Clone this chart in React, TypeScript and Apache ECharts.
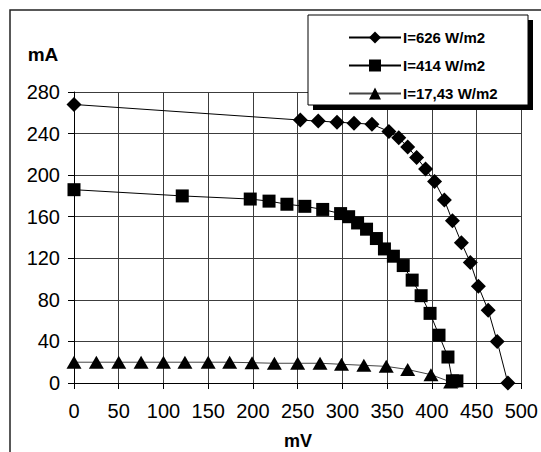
import React, { useEffect, useRef } from "react";
import * as echarts from "echarts";

const xTicks = [0, 50, 100, 150, 200, 250, 300, 350, 400, 450, 500];
const yTicks = [0, 40, 80, 120, 160, 200, 240, 280];

const seriesNames = ["I=626 W/m2", "I=414 W/m2", "I=17,43 W/m2"];

const mV626 = [0, 253, 273, 294, 313, 333, 352, 363, 373, 383, 393, 403, 414, 423, 433, 443, 452, 463, 473, 485];
const mA626 = [268, 253, 252, 251, 250, 249, 242, 236, 227, 217, 206, 194, 176, 156, 135, 116, 93, 70, 40, 0];

const mV414 = [0, 121, 197, 218, 238, 258, 278, 298, 307, 317, 327, 338, 347, 357, 368, 378, 388, 398, 408, 418, 423, 428];
const mA414 = [186, 180, 177, 175, 172, 170, 167, 163, 160, 154, 148, 139, 129, 122, 113, 99, 84, 67, 46, 25, 2, 2];

const mV17 = [0, 25, 50, 75, 100, 124, 150, 174, 199, 224, 250, 275, 299, 324, 349, 373, 399, 421];
const mA17 = [20, 20, 20, 20, 20, 20, 20, 20, 19.5, 19, 19, 19, 18, 17, 16, 13, 8, 1];

const pairs = (xs: number[], ys: number[]) => xs.map((x, i) => [x, ys[i]]);

export default function App() {
  const ref = useRef<HTMLDivElement>(null);
  useEffect(() => {
    document.body.style.margin = "0";
    const chart = echarts.init(ref.current!, null, { renderer: "svg" });
    const font = "'Liberation Sans', Arial, sans-serif";
    const gridColor = "#3c3c3c";
    chart.setOption({
      animation: false,
      backgroundColor: "#fff",
      textStyle: { fontFamily: font },
      grid: { left: 74, top: 92, width: 450, height: 291, containLabel: false },
      xAxis: {
        type: "value",
        min: xTicks[0],
        max: xTicks[xTicks.length - 1],
        interval: 50,
        axisLine: { show: true, onZero: false, lineStyle: { color: "#000", width: 1 } },
        axisTick: { show: true, inside: false, length: 6, lineStyle: { color: "#000" } },
        axisLabel: { color: "#000", fontSize: 20, fontFamily: font, margin: 18 },
        splitLine: { show: true, lineStyle: { color: gridColor, width: 1 } },
      },
      yAxis: {
        type: "value",
        min: yTicks[0],
        max: yTicks[yTicks.length - 1],
        interval: 40,
        axisLine: { show: true, onZero: false, lineStyle: { color: "#000", width: 1 } },
        axisTick: { show: true, inside: false, length: 6, lineStyle: { color: "#000" } },
        axisLabel: { color: "#000", fontSize: 20, fontFamily: font, margin: 14 },
        splitLine: { show: true, lineStyle: { color: gridColor, width: 1 } },
      },
      legend: {
        show: true,
        orient: "vertical",
        left: 343,
        top: 25,
        itemWidth: 52,
        itemHeight: 15,
        itemGap: 13,
        z: 10,
        textStyle: { color: "#000", fontSize: 15, fontWeight: "bold", fontFamily: font, padding: [0, 0, 0, -3] },
        data: seriesNames,
      },
      graphic: [
        { type: "rect", z: 1, silent: true, shape: { x: 10, y: 10, width: 700, height: 700 }, style: { fill: "none", stroke: "#222", lineWidth: 1.5 } },
        { type: "rect", z: 5, silent: true, shape: { x: 313, y: 20, width: 220, height: 90 }, style: { fill: "#000" } },
        { type: "rect", z: 6, silent: true, shape: { x: 308, y: 15, width: 220, height: 90 }, style: { fill: "#fff", stroke: "#000", lineWidth: 1 } },
        { type: "text", z: 6, silent: true, x: 43, y: 54, style: { text: "mA", fill: "#000", font: `bold 19px ${font}`, align: "center", verticalAlign: "middle" } },
        { type: "text", z: 6, silent: true, x: 298, y: 441, style: { text: "mV", fill: "#000", font: `bold 18px ${font}`, align: "center", verticalAlign: "middle" } },
      ],
      series: [
        {
          name: seriesNames[0],
          type: "line",
          data: pairs(mV626, mA626),
          symbol: "diamond",
          symbolSize: 15,
          itemStyle: { color: "#000" },
          lineStyle: { color: "#000", width: 1 },
          z: 3,
        },
        {
          name: seriesNames[1],
          type: "line",
          data: pairs(mV414, mA414),
          symbol: "rect",
          symbolSize: 13,
          itemStyle: { color: "#000" },
          lineStyle: { color: "#000", width: 1 },
          z: 3,
        },
        {
          name: seriesNames[2],
          type: "line",
          data: pairs(mV17, mA17),
          symbol: "triangle",
          symbolSize: [15, 13],
          itemStyle: { color: "#000" },
          lineStyle: { color: "#444", width: 1 },
          z: 3,
        },
      ],
    });
    return () => chart.dispose();
  }, []);
  return <div ref={ref} style={{ width: 541, height: 452 }} />;
}
